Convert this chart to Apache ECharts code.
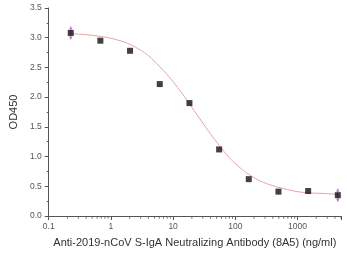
<!DOCTYPE html>
<html><head><meta charset="utf-8">
<script src="https://cdn.jsdelivr.net/npm/echarts@6/dist/echarts.min.js"></script>
<style>html,body{margin:0;padding:0;background:#fff}#c{width:347px;height:260px}</style>
</head><body><div id="c"></div>
<script>
// Measured points (3-fold dilution series)
const conc = [0.226, 0.677, 2.03, 6.10, 18.3, 54.9, 164.6, 493.8, 1481.5, 4444.4];
const od450 = [3.08, 2.95, 2.78, 2.22, 1.90, 1.12, 0.62, 0.41, 0.42, 0.35];
// Error bars (only visible on first and last points)
const errX = [0.226, 4444.4];
const errY = [3.08, 0.35];
const errSize = [0.11, 0.11];
// Fitted curve
const fitX = [0.226, 0.4, 0.7, 1, 1.5, 2, 3, 4, 6, 8, 10, 14, 20, 28, 40, 55, 80, 120, 165, 250, 400, 600, 1000, 1500, 2500, 4444.4];
const fitY = [3.07, 3.05, 3.02, 2.99, 2.94, 2.89, 2.79, 2.70, 2.52, 2.38, 2.26, 2.06, 1.83, 1.61, 1.38, 1.19, 0.98, 0.81, 0.70, 0.59, 0.51, 0.46, 0.41, 0.39, 0.38, 0.365];
// Tick labels
const xTickLabels = ['0.1', '1', '10', '100', '1000'];
const yTickLabels = ['0.0', '0.5', '1.0', '1.5', '2.0', '2.5', '3.0', '3.5'];
// Minor tick positions on the log x axis
const xMinor = [0.2,0.3,0.4,0.5,0.6,0.7,0.8,0.9,2,3,4,5,6,7,8,9,20,30,40,50,60,70,80,90,200,300,400,500,600,700,800,900,2000,3000,4000,5000];

const axisColor = '#555';
const labelColor = '#555';
const chart = echarts.init(document.getElementById('c'), null, {renderer: 'canvas'});
chart.setOption({
  animation: false,
  grid: {left: 40, right: 6, top: 8, bottom: 44},
  xAxis: {
    type: 'log', logBase: 10, min: 0.1, max: 5000,
    name: 'Anti-2019-nCoV S-IgA Neutralizing Antibody (8A5) (ng/ml)',
    nameLocation: 'middle', nameGap: 21,
    nameTextStyle: {fontFamily: 'Liberation Sans', fontSize: 11, color: '#333'},
    axisLine: {show: true, lineStyle: {color: axisColor, width: 1}},
    axisTick: {show: true, length: 4, lineStyle: {color: axisColor}},
    splitLine: {show: false},
    axisLabel: {
      fontFamily: 'Liberation Sans', fontSize: 8.5, color: labelColor, margin: 6,
      formatter: function (v) {
        const l = Math.log10(v);
        const idx = Math.round(l) + 1;
        if (Math.abs(l - Math.round(l)) < 1e-6 && idx >= 0 && idx < xTickLabels.length) return xTickLabels[idx];
        return '';
      }
    }
  },
  yAxis: {
    type: 'value', min: 0, max: 3.5, interval: 0.5,
    name: 'OD450', nameLocation: 'middle', nameGap: 26,
    nameTextStyle: {fontFamily: 'Liberation Sans', fontSize: 11, color: '#333'},
    axisLine: {show: true, lineStyle: {color: axisColor, width: 1}},
    axisTick: {show: true, length: 4, lineStyle: {color: axisColor}},
    minorTick: {show: true, splitNumber: 2, length: 2, lineStyle: {color: axisColor}},
    splitLine: {show: false},
    axisLabel: {
      fontFamily: 'Liberation Sans', fontSize: 8.5, color: labelColor, margin: 7,
      formatter: function (v) { return yTickLabels[Math.round(v / 0.5)]; }
    }
  },
  series: [
    {
      type: 'line', data: fitX.map((x, i) => [x, fitY[i]]), smooth: 0.4,
      symbol: 'none', lineStyle: {color: '#e7a2a2', width: 1}, z: 2
    },
    {
      type: 'custom', z: 3,
      data: errX.map((x, i) => [x, errY[i], errSize[i]]),
      renderItem: function (params, api) {
        const x = api.value(0), y = api.value(1), e = api.value(2);
        const top = api.coord([x, y + e]);
        const bot = api.coord([x, y - e]);
        const c = '#c27ad0';
        return {
          type: 'group',
          children: [
            {type: 'line', shape: {x1: top[0], y1: top[1], x2: bot[0], y2: bot[1]}, style: {stroke: c, lineWidth: 1}},
            {type: 'polygon', shape: {points: [[top[0], top[1]], [top[0] - 1.8, top[1] + 3], [top[0] + 1.8, top[1] + 3]]}, style: {fill: c}},
            {type: 'polygon', shape: {points: [[bot[0], bot[1]], [bot[0] - 1.8, bot[1] - 3], [bot[0] + 1.8, bot[1] - 3]]}, style: {fill: c}}
          ]
        };
      }
    },
    {
      type: 'scatter', data: conc.map((x, i) => [x, od450[i]]),
      symbol: 'rect', symbolSize: 6, itemStyle: {color: '#111'}, z: 4
    },
    {
      type: 'scatter', data: xMinor.map(x => [x, 0]), clip: false, silent: true,
      symbol: 'rect', symbolSize: [1, 2.5], symbolOffset: [0, 1.5],
      itemStyle: {color: axisColor}, z: 1
    }
  ]
});
</script></body></html>
